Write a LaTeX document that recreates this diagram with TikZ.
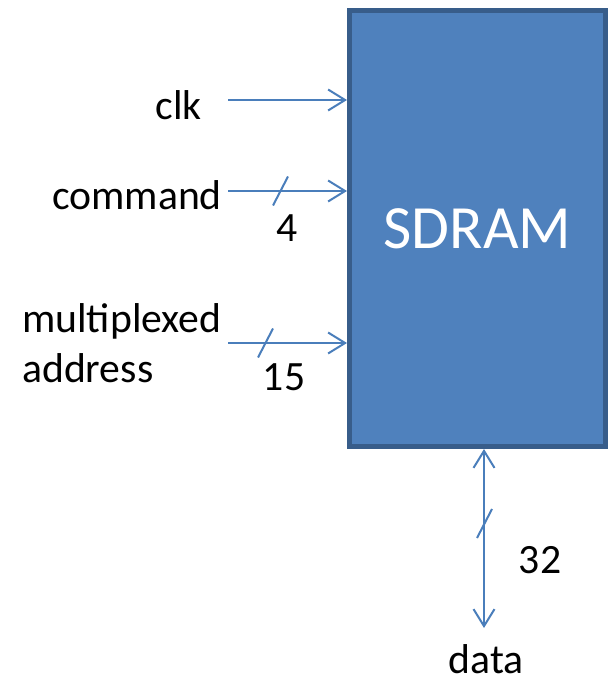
\documentclass[tikz,border=0pt]{standalone}
\usepackage{fontspec}
\setmainfont{Carlito}
\usetikzlibrary{arrows.meta,calc}
\definecolor{sdramfill}{HTML}{4F81BD}
\definecolor{sdramedge}{HTML}{385D8A}
\definecolor{wirecol}{HTML}{4A7EBB}
\tikzset{x=1pt, y=-1pt,
    chip/.style={draw=sdramedge, fill=sdramfill, line width=5pt,
          minimum width=256pt, minimum height=436pt, inner sep=0pt,
          text=white, font=\fontsize{61.5}{74}\selectfont},
    wire/.style={draw=wirecol, line width=2pt,
          -{Straight Barb[length=17pt,width=21pt,line width=2pt]}},
    bus slash/.style={draw=wirecol, line width=2pt},
    pin label/.style={inner sep=0pt, font=\fontsize{41.7}{50}\selectfont}
    }
\def\BusSlash#1{%
  \draw[bus slash] ($(#1)+(-7.5,14.5)$) -- ($(#1)+(7.5,-14.5)$);
}

\begin{document}
\begin{tikzpicture}
\useasboundingbox (0,0) rectangle (612,684);
\node[chip] (SDRAM) at (477.5,228.5) {\raisebox{-3pt}{SDRAM}};
% inputs
\node[pin label, anchor=base east] (clk) at (202,120) {clk};
\node[pin label, anchor=base east] (command) at (222,210) {command};
\node[pin label, anchor=base west, align=left] (address) at (22,382) {multiplexed\\address};
\coordinate (clk in) at (228,100);
\coordinate (cmd in) at (228,191);
\coordinate (addr in) at (228,343);
\draw[wire] (clk in) -- (SDRAM.west |- clk in);
\draw[wire] (cmd in) -- (SDRAM.west |- cmd in);
\draw[wire] (addr in) -- (SDRAM.west |- addr in);
\BusSlash{280.5,191}
\BusSlash{265.5,343}
\node[pin label, anchor=base] (cmd width) at (287,242) {4};
\node[pin label, anchor=base] (addr width) at (284,390) {15};
% data bus
\node[pin label, anchor=base, text depth=0pt] (data) at (486,673) {data};
\coordinate (data end) at (484,628);
\draw[wire, {Straight Barb[length=17pt,width=21pt,line width=2pt]}-{Straight Barb[length=17pt,width=21pt,line width=2pt]}]
  (SDRAM.south -| data end) -- (data end);
\BusSlash{484.5,523.5}
\node[pin label, anchor=base] (data width) at (540,573) {32};
\end{tikzpicture}
\end{document}
